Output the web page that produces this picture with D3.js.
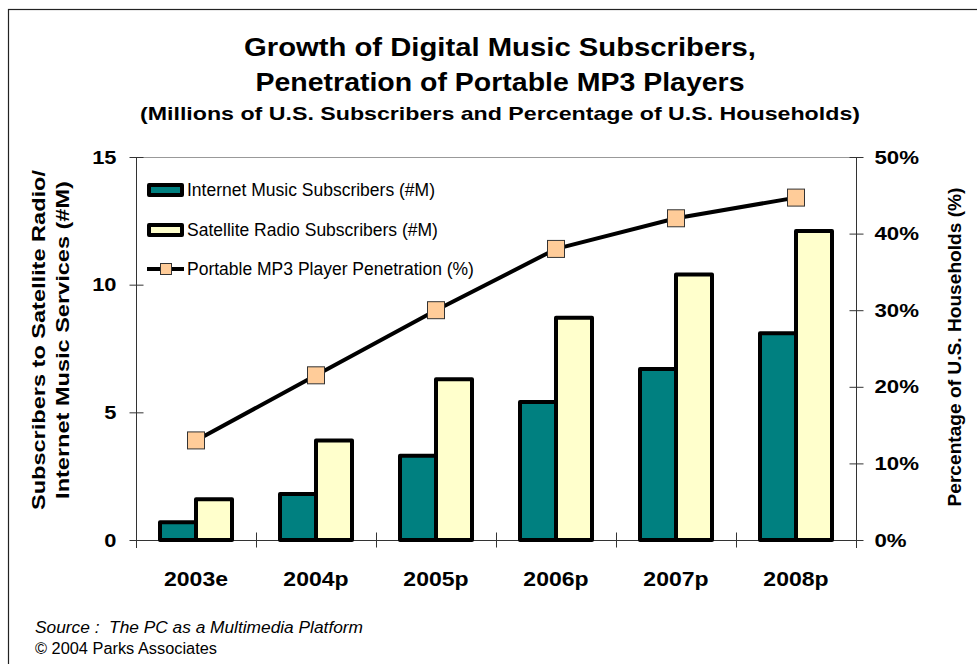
<!DOCTYPE html>
<html>
<head>
<meta charset="utf-8">
<script src="https://cdn.jsdelivr.net/npm/d3@7"></script>
<style>
  html, body { margin: 0; padding: 0; background: #fff; }
  svg { display: block; font-family: "Liberation Sans", Arial, sans-serif; }
</style>
</head>
<body>
<svg id="chart" width="977" height="664"></svg>
<script>
// Categories (years) and series values
const years = ["2003e", "2004p", "2005p", "2006p", "2007p", "2008p"];
const internetSubs = [0.7, 1.8, 3.3, 5.4, 6.7, 8.1];      // millions
const satelliteSubs = [1.6, 3.9, 6.3, 8.7, 10.4, 12.1];   // millions
const mp3Penetration = [13, 21.5, 30, 38, 42, 44.7];      // % of households

const leftTicks = [0, 5, 10, 15];
const rightTicks = [0, 10, 20, 30, 40, 50];

const seriesNames = ["Internet Music Subscribers (#M)", "Satellite Radio Subscribers (#M)", "Portable MP3 Player Penetration (%)"];
const colors = { internet: "#008080", satellite: "#FFFFCC", marker: "#FFCC99" };

const svg = d3.select("#chart");

// Text helpers: fixed length, or widen by a factor of the natural length
function fit(sel, len) {
  sel.attr("textLength", len).attr("lengthAdjust", "spacingAndGlyphs");
}
function stretch(sel, k) {
  sel.each(function () {
    const w = this.getComputedTextLength();
    d3.select(this).attr("textLength", w * k).attr("lengthAdjust", "spacingAndGlyphs");
  });
}

// Outer frame
svg.append("rect")
  .attr("x", 8.5).attr("y", 9.5)
  .attr("width", 1100).attr("height", 800)
  .attr("fill", "none").attr("stroke", "#222").attr("stroke-width", 1.2);

// Titles
const titles = [
  { text: "Growth of Digital Music Subscribers,", y: 56, size: 25, len: 512 },
  { text: "Penetration of Portable MP3 Players", y: 91, size: 25, len: 489 },
  { text: "(Millions of U.S. Subscribers and Percentage of U.S. Households)", y: 120, size: 18.5, len: 720 }
];
svg.selectAll("text.title").data(titles).enter().append("text")
  .attr("class", "title")
  .attr("x", 500).attr("y", d => d.y)
  .attr("text-anchor", "middle")
  .attr("font-weight", "bold")
  .attr("font-size", d => d.size)
  .attr("textLength", d => d.len).attr("lengthAdjust", "spacingAndGlyphs")
  .text(d => d.text);

// Plot geometry
const plot = { left: 136, right: 856, top: 157, bottom: 540 };

const x = d3.scaleBand().domain(years).range([plot.left, plot.right]).paddingInner(0.4).paddingOuter(0.2);
const xSub = d3.scaleBand().domain(["internet", "satellite"]).range([0, x.bandwidth()]);
const yLeft = d3.scaleLinear().domain([0, 15]).range([plot.bottom, plot.top]);
const yRight = d3.scaleLinear().domain([0, 50]).range([plot.bottom, plot.top]);

// Top border of plot area
svg.append("line")
  .attr("x1", plot.left).attr("x2", plot.right)
  .attr("y1", plot.top + 0.5).attr("y2", plot.top + 0.5)
  .attr("stroke", "#999").attr("stroke-width", 1);

// Left axis
const leftAxis = d3.axisLeft(yLeft).tickValues(leftTicks).tickSize(0).tickPadding(20);
const gL = svg.append("g").attr("transform", `translate(${plot.left + 0.5},0)`).call(leftAxis);
gL.select(".domain").remove();
gL.selectAll("text").attr("font-size", 19).attr("font-weight", "bold").attr("fill", "#000")
  .attr("font-family", "Liberation Sans, Arial, sans-serif").call(stretch, 1.15);
gL.append("line").attr("y1", plot.top).attr("y2", plot.bottom + 8).attr("stroke", "#333");
gL.selectAll(".tick").append("line").attr("x1", -7).attr("x2", 7).attr("stroke", "#333");

// Right axis
const rightAxis = d3.axisRight(yRight).tickValues(rightTicks).tickFormat(d => d + "%").tickSize(0).tickPadding(18);
const gR = svg.append("g").attr("transform", `translate(${plot.right + 0.5},0)`).call(rightAxis);
gR.select(".domain").remove();
gR.selectAll("text").attr("font-size", 19).attr("font-weight", "bold").attr("fill", "#000")
  .attr("font-family", "Liberation Sans, Arial, sans-serif").call(stretch, 1.17);
gR.append("line").attr("y1", plot.top).attr("y2", plot.bottom + 8).attr("stroke", "#333");
gR.selectAll(".tick").append("line").attr("x1", -7).attr("x2", 7).attr("stroke", "#333");

// Bottom axis with ticks at category boundaries
const gB = svg.append("g").attr("transform", `translate(0,${plot.bottom + 0.5})`);
gB.append("line").attr("x1", plot.left).attr("x2", plot.right).attr("stroke", "#333");
const boundaries = years.map((y, i) => plot.left + i * x.step()).concat([plot.right]);
gB.selectAll("line.bt").data(boundaries).enter().append("line")
  .attr("class", "bt")
  .attr("x1", d => d + 0.5).attr("x2", d => d + 0.5)
  .attr("y1", -8).attr("y2", 7).attr("stroke", "#333");
gB.selectAll("text").data(years).enter().append("text")
  .attr("x", d => x(d) + x.bandwidth() / 2)
  .attr("y", 45)
  .attr("text-anchor", "middle")
  .attr("font-size", 19.5).attr("font-weight", "bold")
  .text(d => d)
  .call(stretch, 1.18);

// Bars
const barData = years.map((yr, i) => ({ yr, internet: internetSubs[i], satellite: satelliteSubs[i] }));
const groups = svg.append("g").selectAll("g").data(barData).enter().append("g")
  .attr("transform", d => `translate(${x(d.yr)},0)`);
groups.selectAll("rect").data(d => ["internet", "satellite"].map(k => ({ k, v: d[k] }))).enter().append("rect")
  .attr("x", d => xSub(d.k))
  .attr("y", d => yLeft(d.v))
  .attr("width", xSub.bandwidth())
  .attr("height", d => yLeft(0) - yLeft(d.v))
  .attr("fill", d => colors[d.k])
  .attr("stroke", "#000").attr("stroke-width", 4).attr("stroke-linejoin", "round");

// Penetration line
const cx = d => x(d) + x.bandwidth() / 2;
const lineGen = d3.line().x((d, i) => cx(years[i])).y(d => yRight(d));
svg.append("path").datum(mp3Penetration)
  .attr("d", lineGen)
  .attr("fill", "none").attr("stroke", "#000").attr("stroke-width", 4).attr("stroke-linejoin", "round");
svg.append("g").selectAll("rect").data(mp3Penetration).enter().append("rect")
  .attr("x", (d, i) => cx(years[i]) - 8.5)
  .attr("y", d => yRight(d) - 8.5)
  .attr("width", 17).attr("height", 17)
  .attr("fill", colors.marker).attr("stroke", "#333").attr("stroke-width", 1);

// Legend
const legend = svg.append("g");
const legRows = [190, 230, 269];
[["internet", 0], ["satellite", 1]].forEach(([k, i]) => {
  legend.append("rect")
    .attr("x", 149).attr("y", legRows[i] - 5).attr("width", 33).attr("height", 10)
    .attr("fill", colors[k]).attr("stroke", "#000").attr("stroke-width", 4).attr("stroke-linejoin", "round");
});
legend.append("line")
  .attr("x1", 147).attr("x2", 184).attr("y1", legRows[2]).attr("y2", legRows[2])
  .attr("stroke", "#000").attr("stroke-width", 4);
legend.append("rect")
  .attr("x", 160.5).attr("y", legRows[2] - 5.5).attr("width", 11).attr("height", 11)
  .attr("fill", colors.marker).attr("stroke", "#333").attr("stroke-width", 1);
legend.selectAll("text").data(seriesNames).enter().append("text")
  .attr("x", 187).attr("y", (d, i) => legRows[i] + 6)
  .attr("font-size", 17.5)
  .text(d => d);

// Axis titles
const leftTitle1 = svg.append("text")
  .attr("transform", "translate(45,340) rotate(-90)")
  .attr("text-anchor", "middle").attr("font-weight", "bold").attr("font-size", 19)
  .text("Subscribers to Satellite Radio/");
const leftTitle2 = svg.append("text")
  .attr("transform", "translate(69,340) rotate(-90)")
  .attr("text-anchor", "middle").attr("font-weight", "bold").attr("font-size", 19)
  .text("Internet Music Services (#M)");
const leftK = 340 / leftTitle1.node().getComputedTextLength();
leftTitle1.call(stretch, leftK);
leftTitle2.call(stretch, leftK);

svg.append("text")
  .attr("transform", "translate(961,347) rotate(-90)")
  .attr("text-anchor", "middle").attr("font-weight", "bold").attr("font-size", 18.5)
  .text("Percentage of U.S. Households (%)")
  .call(fit, 319);

// Source note
svg.append("text").attr("x", 35).attr("y", 633).attr("font-size", 16).attr("font-style", "italic")
  .style("white-space", "pre")
  .text("Source :  The PC as a Multimedia Platform")
  .call(fit, 328);
svg.append("text").attr("x", 35).attr("y", 654).attr("font-size", 16)
  .text("© 2004 Parks Associates")
  .call(fit, 182);
</script>
</body>
</html>
